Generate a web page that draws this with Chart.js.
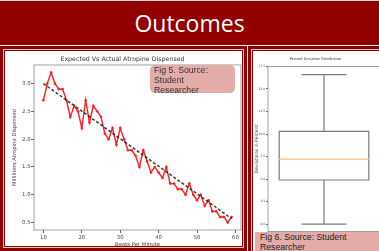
<!DOCTYPE html>
<html lang="en">
<head>
    <meta charset="UTF-8">
    <title>Outcomes</title>
    <script src="https://cdn.jsdelivr.net/npm/chart.js"></script>
    <style>
        body {
            margin: 0;
            width: 379px;
            height: 251px;
            overflow: hidden;
            position: relative;
            background: #fff;
            font-family: "Liberation Sans", Arial, sans-serif;
        }
        .header {
            position: absolute;
            left: 0; top: 0;
            width: 379px; height: 44px;
            border-top: 1px solid #ddd;
            background: #930000;
            color: #fff;
            font-family: "Open Sans", sans-serif;
            font-size: 23px;
            line-height: 44px;
            text-align: center;
        }
        .panel {
            position: absolute;
            top: 46px;
            box-sizing: border-box;
            border: 3px solid #900000;
            box-shadow: inset 0 0 0 1px #e6c4c4, inset 0 0 0 2px #900000;
            background: #fff;
        }
        .caption {
            position: absolute;
            background: #e3aca8;
            color: #333;
            font-size: 8.7px;
            line-height: 10px;
            padding-left: 4px;
            box-sizing: border-box;
        }
        canvas { position: absolute; }
    </style>
</head>
<body>
    <div class="header">Outcomes</div>
    <div class="panel" style="left:0; width:247px; height:205px;"></div>
    <div class="panel" style="left:248px; width:140px; height:210px;"></div>

    <canvas id="atropineChart" width="242" height="200" style="left:4px; top:50px;"></canvas>
    <canvas id="deviationChart" width="130" height="201" style="left:251px; top:50px;"></canvas>

    <div class="caption" style="left:150px; top:65px; width:85px; height:28px; border-radius:5px;">Fig 5. Source:<br>Student<br>Researcher</div>
    <div class="caption" style="left:255px; top:232px; width:130px; height:20px; padding-left:5px; color:#222;">Fig 6. Source: Student<br>Researcher</div>

    <script>
        // Fig 5 data
        const beatsPerMinute = [10, 11, 12, 13, 14, 15, 16, 17, 18, 19, 20, 21, 22, 23, 24, 25, 26, 27, 28, 29,
                                30, 31, 32, 33, 34, 35, 36, 37, 38, 39, 40, 41, 42, 43, 44, 45, 46, 47, 48, 49,
                                50, 51, 52, 53, 54, 55, 56, 57, 58, 59];
        const actualDispensed = [2.7, 3.0, 3.2, 3.0, 2.9, 2.9, 2.7, 2.4, 2.6, 2.5, 2.2, 2.7, 2.3, 2.6, 2.5, 2.4, 2.1, 2.0, 2.2, 1.9,
                                 2.2, 2.0, 1.8, 1.8, 1.7, 1.5, 1.8, 1.6, 1.4, 1.5, 1.4, 1.3, 1.5, 1.2, 1.2, 1.1, 1.1, 1.0, 1.2, 1.0,
                                 0.9, 1.0, 0.8, 0.9, 0.7, 0.7, 0.6, 0.6, 0.5, 0.6];
        const expectedBeats = [10, 59];
        const expectedDispensed = [3.0, 0.57];
        const xTicks = [10, 20, 30, 40, 50, 60];
        const yTicks = [0.5, 1.0, 1.5, 2.0, 2.5, 3.0];

        // Fig 6 data: min, q1, median, q3, max
        const deviationStats = [0, 4.9, 7.2, 10.3, 16.6];
        const deviationTicks = [0, 2.5, 5.0, 7.5, 10.0, 12.5, 15.0, 17.5];

        const frame = {
            id: 'frame',
            afterDatasetsDraw(chart, args, opts) {
                const a = chart.chartArea;
                const ctx = chart.ctx;
                ctx.save();
                ctx.strokeStyle = opts.color || '#888';
                ctx.lineWidth = 0.8;
                ctx.strokeRect(a.left, a.top, a.right - a.left, a.bottom - a.top);
                ctx.restore();
            }
        };

        function fixedTicks(list) {
            return function (scale) {
                scale.ticks = list.map(v => ({ value: v }));
            };
        }

        const tickFont = { family: 'DejaVu Sans', size: 5.3 };

        new Chart(document.getElementById('atropineChart'), {
            type: 'scatter',
            data: {
                datasets: [
                    {
                        label: 'Expected',
                        data: expectedBeats.map((b, i) => ({ x: b, y: expectedDispensed[i] })),
                        showLine: true,
                        borderColor: 'rgba(25,25,25,0.85)',
                        borderWidth: 1.5,
                        borderDash: [3, 2],
                        pointRadius: 0
                    },
                    {
                        label: 'Actual',
                        data: beatsPerMinute.map((b, i) => ({ x: b, y: actualDispensed[i] })),
                        showLine: true,
                        borderColor: '#ff1f1f',
                        backgroundColor: '#ff1f1f',
                        borderWidth: 1.4,
                        pointRadius: 1.3,
                        pointBorderWidth: 0
                    }
                ]
            },
            options: {
                responsive: false,
                animation: false,
                layout: { padding: { left: 0, right: 5, top: 0, bottom: 0 } },
                plugins: {
                    legend: { display: false },
                    tooltip: { enabled: false },
                    title: {
                        display: true,
                        text: 'Expected Vs Actual Atropine Dispensed',
                        color: '#333',
                        font: { family: 'DejaVu Sans', size: 6.3, weight: 'normal' },
                        padding: { top: 5.2, bottom: 2.2 }
                    },
                    frame: { color: '#8a8a8a' }
                },
                scales: {
                    x: {
                        type: 'linear',
                        min: 7.55,
                        max: 61.45,
                        afterBuildTicks: fixedTicks(xTicks),
                        afterFit(scale) { scale.height = 20; },
                        grid: { display: true, drawOnChartArea: false, tickLength: 3, color: '#666' },
                        border: { display: false },
                        ticks: { color: '#444', font: tickFont, padding: 1.5, maxRotation: 0 },
                        title: {
                            display: true,
                            text: 'Beats Per Minute',
                            color: '#444',
                            font: tickFont,
                            padding: { top: 0, bottom: 2.4 }
                        }
                    },
                    y: {
                        min: 0.365,
                        max: 3.335,
                        afterBuildTicks: fixedTicks(yTicks),
                        afterFit(scale) { scale.width = 30; },
                        grid: { display: true, drawOnChartArea: false, tickLength: 3, color: '#666' },
                        border: { display: false },
                        ticks: { color: '#444', font: tickFont, padding: 0.5, callback: v => v.toFixed(1) },
                        title: {
                            display: true,
                            text: 'Milliliters Atropine Dispensed',
                            color: '#444',
                            font: tickFont,
                            padding: { top: 7.8, bottom: 0 }
                        }
                    }
                }
            },
            plugins: [frame]
        });

        // box plot built from line segments on the chart's scales
        const [dMin, dQ1, dMed, dQ3, dMax] = deviationStats;
        const boxHalf = 0.4, capHalf = 0.2;
        const grey = '#7a7a7a';
        function seg(points, color, width) {
            return {
                data: points.map(p => ({ x: p[0], y: p[1] })),
                showLine: true,
                borderColor: color,
                borderWidth: width,
                pointRadius: 0
            };
        }

        new Chart(document.getElementById('deviationChart'), {
            type: 'scatter',
            data: {
                datasets: [
                    seg([[1 - boxHalf, dMed], [1 + boxHalf, dMed]], '#ffc894', 1.5),
                    seg([[1 - boxHalf, dQ1], [1 + boxHalf, dQ1], [1 + boxHalf, dQ3], [1 - boxHalf, dQ3], [1 - boxHalf, dQ1]], grey, 1.2),
                    seg([[1, dMin], [1, dQ1]], grey, 1.2),
                    seg([[1, dQ3], [1, dMax]], grey, 1.2),
                    seg([[1 - capHalf, dMin], [1 + capHalf, dMin]], grey, 1.2),
                    seg([[1 - capHalf, dMax], [1 + capHalf, dMax]], grey, 1.2)
                ]
            },
            options: {
                responsive: false,
                animation: false,
                layout: { padding: { left: 0, right: 1, top: 0, bottom: 19.4 } },
                plugins: {
                    legend: { display: false },
                    tooltip: { enabled: false },
                    title: {
                        display: true,
                        text: 'Percent Deviation Distribution',
                        color: '#333',
                        font: { family: 'DejaVu Sans Condensed', size: 3.8, weight: 'normal' },
                        padding: { top: 6.7, bottom: 5.2 }
                    },
                    frame: { color: '#8a8a8a' }
                },
                scales: {
                    x: { type: 'linear', min: 0.5, max: 1.5, display: false },
                    y: {
                        min: -0.83,
                        max: 17.5,
                        afterBuildTicks: fixedTicks(deviationTicks),
                        afterFit(scale) { scale.width = 17; },
                        grid: { display: true, drawOnChartArea: false, tickLength: 2, color: '#666' },
                        border: { display: false },
                        ticks: { color: '#444', font: { family: 'DejaVu Sans Condensed', size: 3.2 }, padding: 1, callback: v => v.toFixed(1) },
                        title: {
                            display: true,
                            text: 'Deviations in Percent',
                            color: '#444',
                            font: { family: 'DejaVu Sans', size: 4.6 },
                            padding: { top: 2.8, bottom: 0 }
                        }
                    }
                }
            },
            plugins: [frame]
        });
    </script>
</body>
</html>
